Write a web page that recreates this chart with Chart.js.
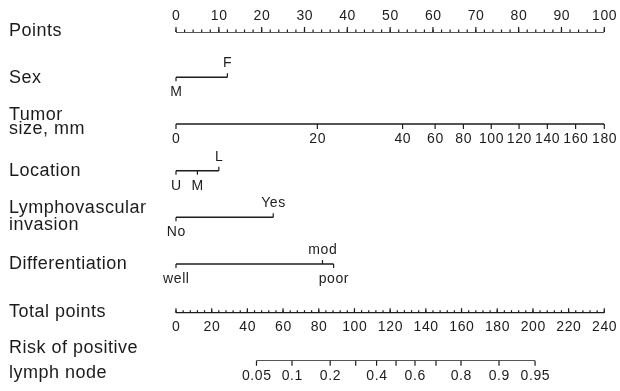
<!DOCTYPE html>
<html>
<head>
<meta charset="utf-8">
<script src="https://cdn.jsdelivr.net/npm/chart.js@4"></script>
<style>
  body { margin: 0; background: #fff; }
  #wrap { width: 620px; height: 391px; position: relative; }
</style>
</head>
<body>
<div id="wrap"><canvas id="nomo"></canvas></div>
<script>
// values
const pointTicks = [0, 10, 20, 30, 40, 50, 60, 70, 80, 90, 100];

const sexLevels = ["M", "F"];
const sexPoints = [0, 12];

const tumorSizes = [0, 20, 40, 60, 80, 100, 120, 140, 160, 180];
const tumorPoints = [0, 33, 52.9, 60.5, 67.1, 73.6, 80.1, 86.7, 93.3, 100];

const locationLevels = ["U", "M", "L"];
const locationPoints = [0, 5, 10];

const lviLevels = ["No", "Yes"];
const lviPoints = [0, 22.7];

const diffLevels = ["well", "mod", "poor"];
const diffPoints = [0, 34.2, 36.8];

const totalTicks = [0, 20, 40, 60, 80, 100, 120, 140, 160, 180, 200, 220, 240];

const riskLabels = ["0.05", "0.1", "0.2", "", "0.4", "", "0.6", "", "0.8", "0.9", "0.95"];
const riskTotals = [45.1, 65.0, 86.4, 100.7, 112.4, 123.3, 133.9, 145.7, 159.7, 181.0, 201.2];

const INK = "#1c1c1c";
const FONT = "'Liberation Sans', Arial, Helvetica, sans-serif";

// one entry per nomogram row; row = position on the hidden y scale
const rows = [
  { name: ["Points"], row: 0, axis: "x", pos: pointTicks, labels: pointTicks.map(String), side: "axisUp", minorStep: 2, max: 100 },
  { name: ["Sex"], row: 0.965, axis: "x", pos: sexPoints, labels: sexLevels, sides: ["down", "up"] },
  { name: ["Tumor", "size, mm"], row: 1.959, axis: "x", pos: tumorPoints, labels: tumorSizes.map(String), side: "axisDown" },
  { name: ["Location"], row: 2.954, axis: "x", pos: locationPoints, labels: locationLevels, sides: ["down", "down", "up"] },
  { name: ["Lymphovascular", "invasion"], row: 3.946, axis: "x", pos: lviPoints, labels: lviLevels, sides: ["down", "up"] },
  { name: ["Differentiation"], row: 4.94, axis: "x", pos: diffPoints, labels: diffLevels, sides: ["down", "up", "down"] },
  { name: ["Total points"], row: 5.977, axis: "xt", pos: totalTicks, labels: totalTicks.map(String), side: "axisUpBelow", minorStep: 4, max: 240 },
  { name: ["Risk of positive", "lymph node"], row: 7, axis: "xt", pos: riskTotals, labels: riskLabels, side: "axisDown" }
];

// left-hand label baselines, relative to the row line
const nameOffsets = {
  "Points": [3.5], "Sex": [5.7], "Tumor": [-4, 10.3], "Location": [5],
  "Lymphovascular": [-4.3, 12.7], "Differentiation": [5], "Total points": [4],
  "Risk of positive": [-7.4, 17.6]
};

const datasets = rows.map(r => ({
  data: [
    { x: Math.min(...r.pos), y: r.row },
    { x: Math.max(...r.pos), y: r.row }
  ],
  xAxisID: r.axis,
  yAxisID: "y",
  borderColor: INK,
  borderWidth: 1.4,
  pointRadius: 0,
  fill: false,
  tension: 0
}));

function drawText(ctx, txt, x, y, size, spacing, align) {
  ctx.font = size + "px " + FONT;
  ctx.letterSpacing = spacing + "px";
  ctx.textAlign = align;
  ctx.textBaseline = "alphabetic";
  ctx.fillText(txt, x + (align === "center" ? spacing / 2 : 0), y);
}

const nomoPlugin = {
  id: "nomo",
  afterDatasetsDraw(chart) {
    const ctx = chart.ctx;
    const yS = chart.scales.y;
    ctx.save();
    ctx.strokeStyle = INK;
    ctx.fillStyle = INK;
    ctx.lineWidth = 1.2;

    rows.forEach(r => {
      const xs = chart.scales[r.axis];
      const y = yS.getPixelForValue(r.row);

      // minor ticks
      if (r.minorStep) {
        for (let v = 0; v <= r.max; v += r.minorStep) {
          const px = xs.getPixelForValue(v);
          ctx.beginPath();
          ctx.moveTo(px, y);
          ctx.lineTo(px, y - 2.5);
          ctx.stroke();
        }
      }

      r.pos.forEach((v, i) => {
        const px = xs.getPixelForValue(v);
        let dir, base;
        if (r.side === "axisUp") { dir = -5; base = y - 12; }
        else if (r.side === "axisUpBelow") { dir = -4.5; base = y + 18; }
        else if (r.side === "axisDown") { dir = 5; base = y + 19.3; }
        else if (r.sides[i] === "up") { dir = -4; base = y - 10; }
        else { dir = 4; base = y + 19; }

        ctx.beginPath();
        ctx.moveTo(px, y);
        ctx.lineTo(px, y + dir);
        ctx.stroke();

        if (r.labels[i]) drawText(ctx, r.labels[i], px, base, 14, 0.6, "center");
      });

      const offs = nameOffsets[r.name[0]];
      r.name.forEach((line, k) => {
        drawText(ctx, line, 9, y + offs[k], 18, 0.5, "left");
      });
    });
    ctx.restore();
  }
};

new Chart(document.getElementById("nomo"), {
  type: "line",
  data: { datasets },
  options: {
    responsive: true,
    maintainAspectRatio: false,
    animation: false,
    layout: { padding: { left: 176, right: 15.7, top: 32, bottom: 30.3 } },
    plugins: { legend: { display: false }, tooltip: { enabled: false } },
    scales: {
      x: { type: "linear", min: 0, max: 100, display: false },
      xt: { type: "linear", min: 0, max: 240, display: false },
      y: { type: "linear", min: 0, max: 7, reverse: true, display: false }
    }
  },
  plugins: [nomoPlugin]
});
</script>
</body>
</html>
